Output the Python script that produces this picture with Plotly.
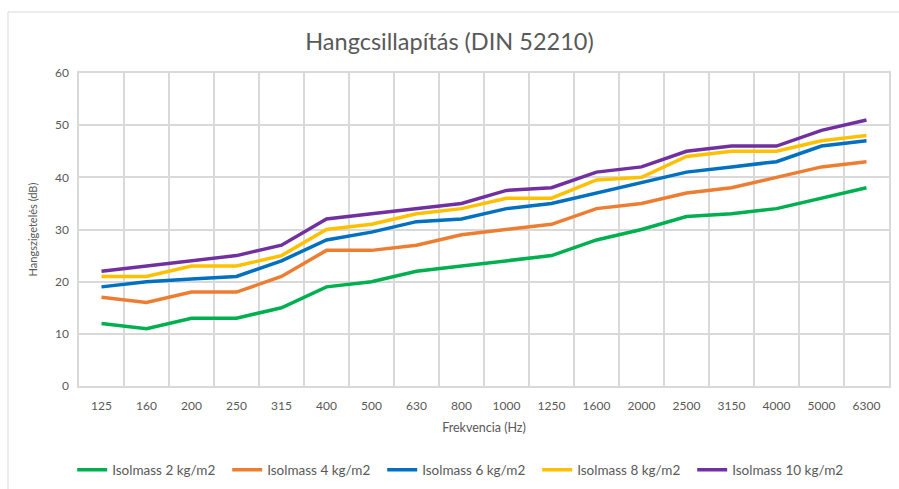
import plotly.graph_objects as go

freqs = ["125", "160", "200", "250", "315", "400", "500", "630", "800", "1000",
         "1250", "1600", "2000", "2500", "3150", "4000", "5000", "6300"]
isol_2 = [12, 11, 13, 13, 15, 19, 20, 22, 23, 24, 25, 28, 30, 32.5, 33, 34, 36, 38]
isol_4 = [17, 16, 18, 18, 21, 26, 26, 27, 29, 30, 31, 34, 35, 37, 38, 40, 42, 43]
isol_6 = [19, 20, 20.5, 21, 24, 28, 29.5, 31.5, 32, 34, 35, 37, 39, 41, 42, 43, 46, 47]
isol_8 = [21, 21, 23, 23, 25, 30, 31, 33, 34, 36, 36, 39.5, 40, 44, 45, 45, 47, 48]
isol_10 = [22, 23, 24, 25, 27, 32, 33, 34, 35, 37.5, 38, 41, 42, 45, 46, 46, 49, 51]

series = [
    ("Isolmass 2 kg/m2", isol_2, "#00B050"),
    ("Isolmass 4 kg/m2", isol_4, "#ED7D31"),
    ("Isolmass 6 kg/m2", isol_6, "#0070C0"),
    ("Isolmass 8 kg/m2", isol_8, "#FFC000"),
    ("Isolmass 10 kg/m2", isol_10, "#7030A0"),
]

FONT = "Lato, Carlito, 'Open Sans', sans-serif"
GRAY = "#595959"
GRID = "#D9D9D9"

fig = go.Figure()
for name, vals, color in series:
    fig.add_trace(go.Scatter(
        x=freqs, y=vals, name=name, mode="lines",
        line=dict(color=color, width=3.5),
    ))

fig.update_layout(
    width=899, height=489,
    margin=dict(l=79, r=10, t=73, b=103),
    paper_bgcolor="white", plot_bgcolor="white",
    font=dict(family=FONT, color=GRAY, size=12),
    title=dict(text="Hangcsillapítás (DIN 52210)", x=0.5, xanchor="center",
               y=1 - 42 / 489, yanchor="middle",
               font=dict(size=23.5, color=GRAY, family=FONT)),
    showlegend=True,
    legend=dict(orientation="h", x=0.47, xanchor="center",
                yref="container", y=1 - 470 / 489, yanchor="middle",
                font=dict(size=13.5, color=GRAY), itemwidth=30, tracegroupgap=0,
                entrywidth=110, entrywidthmode="pixels"),
    xaxis=dict(
        type="category", range=[-0.5, 17.5], tickson="boundaries", automargin=False,
        showgrid=True, gridcolor=GRID, gridwidth=1.5,
        showline=True, linecolor=GRID, linewidth=1.5, mirror=True,
        ticks="outside", ticklen=13, tickcolor="white", ticklabelstandoff=8,
        tickfont=dict(size=12, color=GRAY),
        title=dict(text="Frekvencia (Hz)", font=dict(size=12.5, color=GRAY), standoff=11),
        zeroline=False,
    ),
    yaxis=dict(
        range=[0, 60], dtick=10, showgrid=True, gridcolor=GRID, gridwidth=1.5,
        automargin=False,
        showline=True, linecolor=GRID, linewidth=1.5, mirror=True,
        ticks="outside", ticklen=6, tickcolor="white",
        tickfont=dict(size=12, color=GRAY),
        title=dict(text="Hangszigetelés (dB)", font=dict(size=11, color=GRAY), standoff=15),
        zeroline=False,
    ),
    shapes=[dict(type="rect", xref="paper", yref="paper",
                 x0=(8 - 79) / 810, x1=1.2, y0=-0.5, y1=(386 - 12) / 313,
                 line=dict(color=GRID, width=1), fillcolor="rgba(0,0,0,0)", layer="below")],
)

fig.write_html("out.html", config={"displayModeBar": False},
               post_script="document.body.style.margin='0';document.body.style.overflow='hidden';")
